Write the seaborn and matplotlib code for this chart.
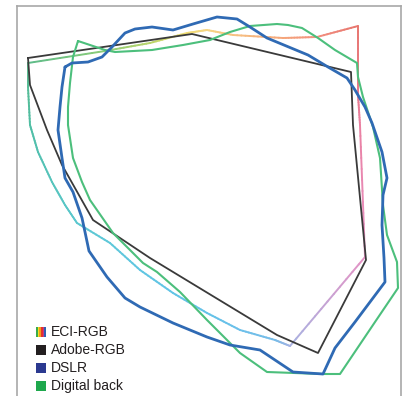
import numpy as np
import matplotlib
matplotlib.use("Agg")
import matplotlib.pyplot as plt
import seaborn as sns
from matplotlib.collections import LineCollection
from matplotlib.colors import to_rgb
from matplotlib.patches import Rectangle

# Gamut outlines in chart units (y grows downward)
eci_x = [28, 105, 150, 187, 207, 233, 283, 317, 358, 358, 360, 365, 290, 275, 240, 207, 173, 140, 110, 77, 65, 52, 38, 30, 28, 28]
eci_y = [63, 51, 43, 33, 30, 35, 38, 37, 26, 95, 125, 257, 346, 340, 330, 313, 293, 270, 243, 223, 205, 182, 152, 125, 87, 63]
eci_colors = ["#5dbb8a", "#8ccc78", "#b8d46a", "#f0dc70", "#f6d684", "#f7c282", "#f5a67a", "#f29080",
              "#e8766e", "#e8788c", "#ea80a2", "#e692c4", "#a8b2e2", "#78bce8", "#6cc0ea", "#64c2e8",
              "#62c4e6", "#60c6e2", "#5ec8da", "#5cc8d0", "#58c6c6", "#56c4bc", "#52c0b0", "#50bea4",
              "#56bc96", "#5dbb8a"]

adobe_x = [28, 192, 351, 353, 366, 318, 277, 150, 93, 62, 47, 30, 28]
adobe_y = [58, 34, 72, 125, 260, 353, 335, 258, 220, 165, 130, 85, 58]

dslr_x = [65, 72, 88, 102, 112, 125, 135, 152, 173, 193, 217, 237, 250, 267, 308, 328, 347, 355, 365, 372,
          382, 387, 383, 382, 384, 385, 355, 335, 323, 293, 260, 230, 207, 173, 140, 125, 107, 89, 85, 82,
          73, 65, 62, 58, 60, 62, 65]
dslr_y = [67, 63, 62, 57, 47, 33, 29, 27, 30, 24, 17, 19, 27, 38, 55, 67, 78, 90, 107, 123,
          152, 178, 195, 225, 258, 282, 322, 348, 374, 372, 350, 345, 337, 323, 307, 298, 277, 251, 232, 218,
          192, 178, 158, 130, 107, 87, 67]

back_x = [78, 105, 115, 152, 183, 210, 230, 250, 277, 288, 302, 318, 335, 357, 358, 363, 373, 380, 383, 387,
          397, 398, 375, 340, 322, 267, 240, 207, 180, 157, 143, 113, 90, 82, 73, 68, 68, 70, 73, 78]
back_y = [41, 50, 52, 50, 45, 40, 32, 26, 24, 25, 28, 38, 50, 63, 77, 97, 127, 158, 205, 235,
          262, 288, 322, 374, 374, 372, 353, 320, 292, 272, 263, 233, 200, 182, 158, 125, 107, 83, 57, 41]

legend_labels = ["ECI-RGB", "Adobe-RGB", "DSLR", "Digital back"]
legend_colors = [None, "#231f20", "#2b3990", "#1ea84d"]
eci_swatch = ["#3aaa4a", "#f2e01e", "#f39a1e", "#e4322b", "#c4368a", "#2f5fb0"]

W, H = 411, 396

sns.set_theme(style="white")
plt.rcParams["font.family"] = ["Liberation Sans Narrow", "Liberation Sans", "DejaVu Sans"]

fig = plt.figure(figsize=(W / 100, H / 100), dpi=100)
fig.patch.set_facecolor("white")
ax = fig.add_axes([17 / W, 0, (401 - 17) / W, (H - 6) / H])
ax.set_xticks([])
ax.set_yticks([])
for side in ("top", "left", "right"):
    ax.spines[side].set_color("#a8a8a8")
    ax.spines[side].set_linewidth(1.2)
ax.spines["bottom"].set_visible(False)

# ECI-RGB: hue runs around its outline
pts = np.column_stack([eci_x, eci_y]).astype(float)
cols = np.array([to_rgb(c) for c in eci_colors])
segs, segcols = [], []
steps = 12
for i in range(len(pts) - 1):
    for k in range(steps):
        t0, t1 = k / steps, (k + 1) / steps
        p0 = pts[i] + (pts[i + 1] - pts[i]) * t0
        p1 = pts[i] + (pts[i + 1] - pts[i]) * t1
        segs.append([p0, p1])
        segcols.append(cols[i] + (cols[i + 1] - cols[i]) * (t0 + t1) / 2)
ax.add_collection(LineCollection(segs, colors=segcols, linewidths=1.4, capstyle="round"))

sns.lineplot(x=adobe_x, y=adobe_y, sort=False, estimator=None, color="#3a3a3a", lw=1.3, ax=ax)
sns.lineplot(x=back_x, y=back_y, sort=False, estimator=None, color="#4cbf7c", lw=1.5, ax=ax)
sns.lineplot(x=dslr_x, y=dslr_y, sort=False, estimator=None, color="#2f6ab4", lw=2.0, ax=ax)
ax.set_xlim(17, 401)
ax.set_ylim(H, 6)

# Legend, bottom-left
def fx(x):
    return x / W

def fy(y):
    return 1 - y / H

rows = [332, 350, 368, 386]
sw = 10
for lab, col, yc in zip(legend_labels, legend_colors, rows):
    if col is None:
        n = len(eci_swatch)
        for j, c in enumerate(eci_swatch):
            fig.add_artist(Rectangle((fx(36 + j * sw / n), fy(yc + sw / 2)), sw / n / W, sw / H,
                                     transform=fig.transFigure, facecolor=c, edgecolor="none"))
    else:
        fig.add_artist(Rectangle((fx(36), fy(yc + sw / 2)), sw / W, sw / H,
                                 transform=fig.transFigure, facecolor=col, edgecolor="none"))
    fig.text(fx(51), fy(yc), lab, fontsize=10, color="#231f20", va="center", ha="left")

fig.savefig("out.png", dpi=100, facecolor="white")
